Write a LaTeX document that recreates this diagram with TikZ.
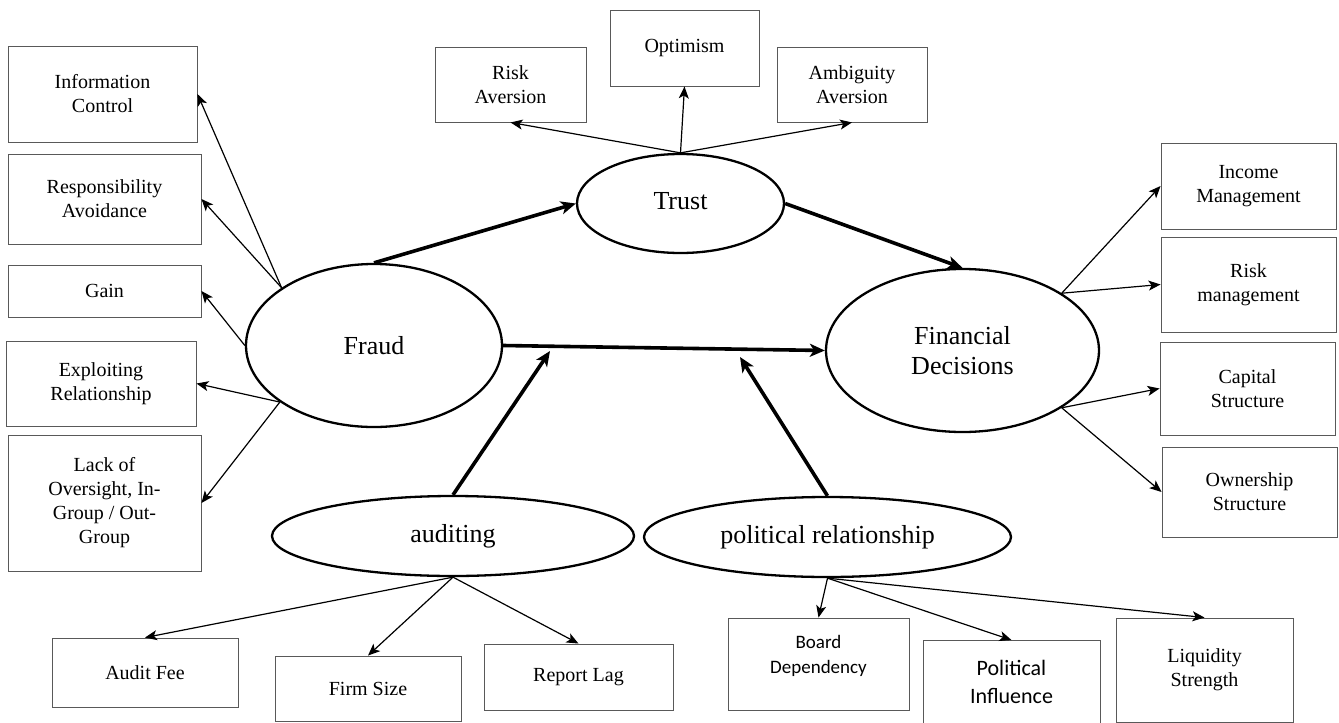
\documentclass[tikz,border=0pt]{standalone}
\usepackage{fontspec}
\setmainfont{Liberation Serif}
\newfontfamily\calfont{Carlito}
\usetikzlibrary{shapes.geometric,arrows.meta}
\begin{document}
\begin{tikzpicture}[x=1pt,y=-1pt,
 box/.style={draw=black!65,line width=0.9pt,align=center,inner sep=0pt,font=\fontsize{20}{24}\selectfont},
 oval/.style={draw,ellipse,line width=2.3pt,inner sep=0pt,font=\fontsize{26}{30}\selectfont,align=center},
 thinarr/.style={line width=1.2pt,-{Stealth[length=12pt,width=10pt,inset=3pt]}},
 thickarr/.style={line width=3.6pt,-{Stealth[length=15pt,width=13pt,inset=4pt]}}]
\useasboundingbox (0,0) rectangle (1339,723);
% ellipses
\node[oval,minimum width=256pt,minimum height=163pt] (fraud) at (374,345.5) {Fraud};
\node[oval,minimum width=207pt,minimum height=99pt] (trust) at (680.5,203.5) {\raisebox{6pt}{Trust}};
\node[oval,minimum width=273pt,minimum height=163pt] (fin) at (962.5,350.5) {Financial\\Decisions};
\node[oval,minimum width=362pt,minimum height=80pt] (aud) at (453,536) {auditing};
\node[oval,minimum width=367pt,minimum height=80pt] (pol) at (827.5,537) {political relationship};
% left boxes
\node[box,minimum width=189pt,minimum height=96pt] (ic) at (102.5,94) {Information\\Control};
\node[box,minimum width=193pt,minimum height=90pt] (rav) at (104.5,199) {Responsibility\\Avoidance};
\node[box,minimum width=193pt,minimum height=52pt] (gain) at (104.5,291) {Gain};
\node[box,minimum width=190pt,minimum height=85pt] (er) at (101,383.5) {Exploiting\\Relationship};
\node[box,minimum width=193pt,minimum height=136pt] (lo) at (104.5,503) {Lack of\\Oversight, In-\\Group / Out-\\Group};
% top boxes
\node[box,minimum width=151pt,minimum height=75pt] (ra) at (510.5,84.5) {Risk\\Aversion};
\node[box,minimum width=149pt,minimum height=76pt] (opt) at (684.5,48) {Optimism};
\node[box,minimum width=150pt,minimum height=75pt] (aa) at (852,84.5) {Ambiguity\\Aversion};
% right boxes
\node[box,minimum width=175pt,minimum height=86pt] (im) at (1248.5,186) {Income\\Management};
\node[box,minimum width=175pt,minimum height=95pt] (rm) at (1248.5,284.5) {Risk\\management};
\node[box,minimum width=175pt,minimum height=93pt] (cs) at (1247.5,388.5) {Capital\\Structure};
\node[box,minimum width=175pt,minimum height=90pt] (os) at (1249.5,492) {Ownership\\Structure};
% bottom boxes
\node[box,minimum width=186pt,minimum height=69pt] (af) at (145,672.5) {Audit Fee};
\node[box,minimum width=186pt,minimum height=65pt] (fs) at (368,688.5) {Firm Size};
\node[box,minimum width=189pt,minimum height=66pt] (rl) at (578.5,677) {Report Lag};
\node[box,minimum width=181pt,minimum height=92pt,font=\calfont\fontsize{19}{25}\selectfont] (bd) at (818.5,664) {Board\\Dependency\\[-5pt]\mbox{}};
\node[box,minimum width=177pt,minimum height=83pt,font=\calfont\fontsize{22}{28}\selectfont] (pi) at (1011.5,682) {Political\\Influence};
\node[box,minimum width=177pt,minimum height=104pt] (ls) at (1204.5,670) {Liquidity\\Strength};
% free ends on the Fraud--Financial Decisions arrow
\coordinate (m1) at (550,351);
\coordinate (m2) at (740,357);
% thick arrows
\draw[thickarr] (fraud.north) -- (trust.west);
\draw[thickarr] (trust.east) -- (fin.north);
\draw[thickarr] (fraud.east) -- (fin.west);
\draw[thickarr] (aud.north) -- (m1);
\draw[thickarr] (pol.north) -- (m2);
% Fraud
\draw[thinarr] (fraud.148) -- (ic.east);
\draw[thinarr] (fraud.148) -- (rav.east);
\draw[thinarr] (fraud.west) -- (gain.east);
\draw[thinarr] (fraud.211) -- (er.east);
\draw[thinarr] (fraud.211) -- (lo.east);
% Trust
\draw[thinarr] (trust.north) -- (ra.south);
\draw[thinarr] (trust.north) -- (opt.south);
\draw[thinarr] (trust.north) -- (aa.south);
% Financial decisions
\draw[thinarr] (fin.30) -- (im.west);
\draw[thinarr] (fin.30) -- (rm.west);
\draw[thinarr] (fin.-30) -- (cs.west);
\draw[thinarr] (fin.-30) -- (os.west);
% auditing
\draw[thinarr] (aud.south) -- (af.north);
\draw[thinarr] (aud.south) -- (fs.north);
\draw[thinarr] (aud.south) -- (rl.north);
% political relationship
\draw[thinarr] (pol.south) -- (bd.north);
\draw[thinarr] (pol.south) -- (pi.north);
\draw[thinarr] (pol.south) -- (ls.north);
\end{tikzpicture}
\end{document}
